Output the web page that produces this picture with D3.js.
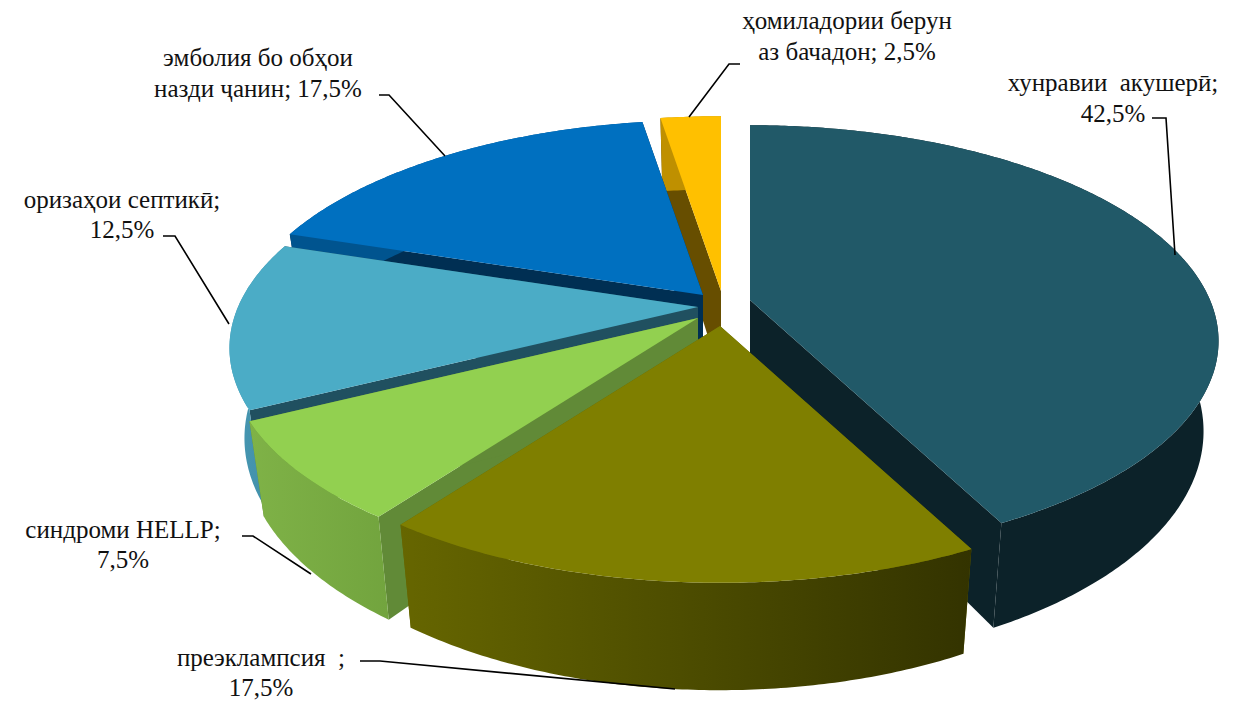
<!DOCTYPE html>
<html>
<head>
<meta charset="utf-8">
<script src="https://cdn.jsdelivr.net/npm/d3@7"></script>
<style>
body { margin: 0; background: #fff; }
text { font-family: "Liberation Serif", serif; font-size: 25px; fill: #111; text-anchor: middle; }
</style>
</head>
<body>
<div id="body"></div>
<script>
//chart data, clockwise from the top
let categories = ['хунравии  акушерӣ', 'преэклампсия  ', 'синдроми HELLP', 'оризаҳои септикӣ', 'эмболия бо обҳои назди ҷанин', 'ҳомиладории берун аз бачадон']
let values = [42.5, 17.5, 7.5, 12.5, 17.5, 2.5]

//slice colours
let topColors = ['#215968', '#7f7f00', '#92d050', '#4bacc6', '#0070c0', '#ffc000']
let cutColors = ['#0c2229', '#666600', '#618a37', '#205060', '#002f53', '#674e00']
let wallFrom = ['#0c2229', '#666600', '#7fb247', '#4798b3', '#00548f', '#bf9000']
let wallTo = ['#0c2229', '#333300', '#72a43e', '#3f8aa3', '#00548f', '#bf9000']

//how far each slice is pulled away from the middle of the pie
let pullX = [45, 15, -7, -7, -2, 16]
let pullY = [-5, 21, 13, 2, -10, -14]

//label lines and leader lines
let labelLines = [
  [{ t: 'хунравии  акушерӣ;', x: 1113, y: 91 }, { t: '42,5%', x: 1113, y: 122 }],
  [{ t: 'преэклампсия  ;', x: 261, y: 666 }, { t: '17,5%', x: 261, y: 696 }],
  [{ t: 'синдроми HELLP;', x: 123, y: 538 }, { t: '7,5%', x: 123, y: 568 }],
  [{ t: 'оризаҳои септикӣ;', x: 122, y: 208 }, { t: '12,5%', x: 122, y: 238 }],
  [{ t: 'эмболия бо обҳои', x: 258, y: 66 }, { t: 'назди ҷанин; 17,5%', x: 258, y: 97 }],
  [{ t: 'ҳомиладории берун', x: 847, y: 29 }, { t: 'аз бачадон; 2,5%', x: 847, y: 60 }]
]
let leaders = [
  [[1152, 118], [1166, 118], [1175, 255]],
  [[360, 661], [380, 661], [675, 689]],
  [[242, 536], [253, 536], [311, 574]],
  [[163, 236], [175, 236], [229, 324]],
  [[379, 95], [389, 95], [445, 156]],
  [[740, 64], [729, 64], [689, 117]]
]

let size = { width: 1235, height: 701 }
let pie3d = {
  cx: 705,
  cy: 305,
  rx: 460,
  ry: 208,
  persp: 0.19, //perspective strength
  depth: 87,
  shrink: 0.968 //bottom plane is a bit narrower than the top
}

//angle + radius + drop to a screen point, in the frame of one slice
let project = (i, angle, r, drop) => {
  let wx = Math.sin(angle) * r
  let wy = Math.cos(angle) * r
  let s = 1 / (1 + pie3d.persp * wy)
  let x = pie3d.rx * wx * s * (drop ? pie3d.shrink : 1)
  let y = -pie3d.ry * wy * s + drop * s
  return [pie3d.cx + pullX[i] + x, pie3d.cy + pullY[i] + y]
}

let svg = d3.select('#body')
  .append('svg')
  .attr('width', size.width)
  .attr('height', size.height)

let defs = svg.append('defs')
let line = d3.line()

let arcs = d3.pie().sort(null)(values)

//back slices first, the olive one sits on top of everything
let drawOrder = [5, 4, 3, 2, 0, 1]

drawOrder.forEach(i => {
  let a = arcs[i]
  let g = svg.append('g').attr('class', 'slice').attr('data-name', categories[i])
  let steps = d3.range(a.startAngle, a.endAngle, 0.01).concat(a.endAngle)
  let top = steps.map(t => project(i, t, 1, 0))
  let bottom = steps.map(t => project(i, t, 1, pie3d.depth))
  let apexTop = project(i, 0, 0, 0)
  let apexBottom = project(i, 0, 0, pie3d.depth)

  //cut faces
  ;[a.startAngle, a.endAngle].forEach(t => {
    g.append('path')
      .attr('d', line([apexTop, project(i, t, 1, 0), project(i, t, 1, pie3d.depth), apexBottom]) + 'Z')
      .attr('fill', cutColors[i])
  })

  //outer wall
  let grad = defs.append('linearGradient').attr('id', 'wall' + i)
  grad.append('stop').attr('offset', '0%').attr('stop-color', wallFrom[i])
  grad.append('stop').attr('offset', '100%').attr('stop-color', wallTo[i])
  g.append('path')
    .attr('d', line(top.concat(bottom.slice().reverse())) + 'Z')
    .attr('fill', `url(#wall${i})`)

  //top face
  g.append('path')
    .attr('d', line([apexTop].concat(top)) + 'Z')
    .attr('fill', topColors[i])
})

//leader lines
svg.append('g')
  .selectAll('path')
  .data(leaders)
  .join('path')
  .attr('d', d => line(d))
  .attr('fill', 'none')
  .attr('stroke', '#000')
  .attr('stroke-width', 1.6)

//labels
svg.append('g')
  .selectAll('text')
  .data(labelLines.flat())
  .join('text')
  .attr('xml:space', 'preserve')
  .style('white-space', 'pre')
  .attr('x', d => d.x)
  .attr('y', d => d.y)
  .text(d => d.t)
</script>
</body>
</html>
